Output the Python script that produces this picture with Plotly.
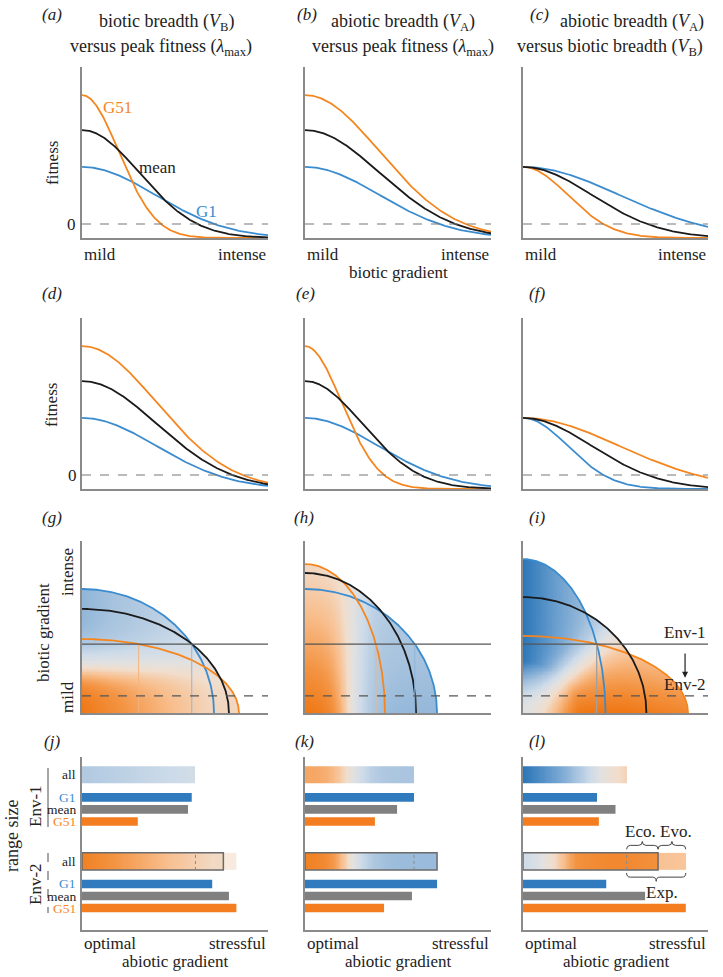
import numpy as np
import plotly.graph_objects as go

W, H = 723, 977
FONT = "Liberation Serif"

# ---------------- data ----------------
genotypes = ["G1", "mean", "G51"]
line_colors = ["#3b8ccf", "#1a1a1a", "#f5861f"]
bar_colors = ["#2f7bbd", "#808080", "#f47d1f"]
label_colors = ["#3b8ccf", "#222222", "#f5861f"]

# fitness panels (a-f): peak fitness (zero line at 0) and breadth along the gradient
fitness_floor = -1.0
fitness_top = 11.2
peak_a = [4.07, 6.7, 9.2]
breadth_a = [0.394, 0.307, 0.197]
peak_b = [4.07, 6.7, 9.2]
breadth_b = [0.40, 0.40, 0.40]
peak_c = [4.07, 4.07, 4.07]
breadth_c = [0.52, 0.372, 0.241]
peak_d = [4.07, 6.7, 9.2]
breadth_d = [0.40, 0.40, 0.40]
peak_e = [4.07, 6.7, 9.2]
breadth_e = [0.394, 0.307, 0.197]
peak_f = [4.07, 4.07, 4.07]
breadth_f = [0.241, 0.372, 0.52]

# range panels (g-i): extent along abiotic (x) and biotic (y) gradients
abiotic_g = [0.710, 0.790, 0.844]
biotic_g = [0.721, 0.605, 0.430]
abiotic_h = [0.710, 0.597, 0.430]
biotic_h = [0.721, 0.814, 0.866]
abiotic_i = [0.446, 0.667, 0.892]
biotic_i = [0.895, 0.674, 0.448]
env_levels = [0.401, 0.099]
env_names = ["Env-1", "Env-2"]

# range size panels (j-l)
bar_j_env1 = [0.59, 0.57, 0.30]
bar_j_env2 = [0.70, 0.79, 0.83]
all_j = [0.61, 0.76]
ext_j = 0.83
bar_k_env1 = [0.586, 0.495, 0.376]
bar_k_env2 = [0.71, 0.575, 0.425]
all_k = [0.586, 0.71]
ext_k = 0.71
bar_l_env1 = [0.40, 0.50, 0.41]
bar_l_env2 = [0.45, 0.66, 0.88]
all_l = [0.56, 0.73]
ext_l = 0.88

letters = ["a", "b", "c", "d", "e", "f", "g", "h", "i", "j", "k", "l"]

# ---------------- layout geometry (page pixels) ----------------
cols = [(82, 268), (305, 491), (523, 708)]
rows = [(67, 238), (318, 489), (541, 713), (757, 930)]
bar_top = 14.4
slot_top = [12.92, 5.71]
slot_offsets = [-1.88, -2.88, -3.88]
thin, thick = 0.71, 1.42


def PX(x):
    return x / W


def PY(y):
    return 1 - y / H


CS = [[0.0, "#ef7612"], [0.12, "#f39443"], [0.25, "#f8be8d"], [0.38, "#f1ddcc"],
      [0.5, "#e2e1e0"], [0.62, "#cddbe9"], [0.75, "#a7c3de"], [0.88, "#6b9fcf"],
      [1.0, "#2b76b8"]]


def field_g(X, Y):
    t = np.tanh((Y - 0.29) / 0.12)
    amp_o = np.clip(1.0 - 1.0 * X, 0.3, 1.0)
    amp_b = np.clip(0.6 - 0.55 * X, 0.12, 0.6)
    return np.where(t < 0, t * amp_o, t * amp_b)


def field_h(X, Y):
    t = np.tanh((X - 0.26) / 0.10)
    amp_o = np.clip(1.0 - 0.85 * Y, 0.3, 1.0)
    amp_b = np.clip(0.58 - 0.25 * Y, 0.3, 0.6)
    return np.where(t < 0, t * amp_o, t * amp_b)


def field_i(X, Y):
    t = np.tanh((Y - 0.95 * X) / 0.12)
    r = np.sqrt(X ** 2 + Y ** 2)
    amp = np.clip(r / 0.3, 0, 1)
    amp_b = amp * np.clip(1.0 - 1.3 * X, 0.15, 1.0)
    amp_o = amp * np.clip(1.0 - 1.5 * Y, 0.25, 1.0) * (1 - 0.4 * np.clip(X - 0.55, 0, 1))
    return np.where(t < 0, t * amp_o, t * amp_b)


def refs(k):
    return ("x" if k == 1 else f"x{k}"), ("y" if k == 1 else f"y{k}")


fig = go.Figure()
layout = {}
shapes = []
annotations = []

axstyle = dict(showline=True, linecolor="#8a8a8a", linewidth=1.5, showgrid=False,
               zeroline=False, showticklabels=False, ticks="", fixedrange=True)
for idx in range(12):
    r, c = divmod(idx, 3)
    k = idx + 1
    xr, yr = refs(k)
    xname = "xaxis" + ("" if k == 1 else str(k))
    yname = "yaxis" + ("" if k == 1 else str(k))
    yrange = [fitness_floor, fitness_top] if r < 2 else ([0, 1] if r == 2 else [0, bar_top])
    layout[xname] = dict(domain=[PX(cols[c][0]), PX(cols[c][1])], anchor=yr, range=[0, 1], **axstyle)
    layout[yname] = dict(domain=[PY(rows[r][1]), PY(rows[r][0])], anchor=xr, range=yrange, **axstyle)


def txt(x, y, s, size=17, color="#222222", xanchor="center", yanchor="middle", angle=0):
    annotations.append(dict(x=PX(x), y=PY(y), xref="paper", yref="paper", text=s,
                            showarrow=False, font=dict(family=FONT, size=size, color=color),
                            xanchor=xanchor, yanchor=yanchor, textangle=angle))


# ---------------- fitness panels ----------------
xg = np.linspace(0, 1, 300)
fit_sets = [(peak_a, breadth_a), (peak_b, breadth_b), (peak_c, breadth_c),
            (peak_d, breadth_d), (peak_e, breadth_e), (peak_f, breadth_f)]
for p_i, (peaks, breadths) in enumerate(fit_sets):
    k = p_i + 1
    xr, yr = refs(k)
    shapes.append(dict(type="line", xref=xr, yref=yr, x0=0, x1=1, y0=0, y1=0,
                       line=dict(color="#777777", width=1.2, dash="dash")))
    for gi in [0, 2, 1]:
        y = fitness_floor + (peaks[gi] - fitness_floor) * np.exp(-xg ** 2 / (2 * breadths[gi] ** 2))
        fig.add_trace(go.Scatter(x=xg, y=y, mode="lines", line=dict(color=line_colors[gi], width=1.8),
                                 xaxis=xr, yaxis=yr, hoverinfo="skip", showlegend=False))

# ---------------- range maps ----------------
N = 220
xs = (np.arange(N) + 0.5) / N
X, Y = np.meshgrid(xs, xs)
theta = np.linspace(0, np.pi / 2, 240)
map_sets = [(7, field_g, abiotic_g, biotic_g), (8, field_h, abiotic_h, biotic_h),
            (9, field_i, abiotic_i, biotic_i)]
for k, fn, A, B in map_sets:
    xr, yr = refs(k)
    inside = np.zeros_like(X, dtype=bool)
    for a, b in zip(A, B):
        inside |= (X / a) ** 2 + (Y / b) ** 2 <= 1
    Z = np.where(inside, fn(X, Y), np.nan)
    fig.add_trace(go.Heatmap(x=xs, y=xs, z=Z, zmin=-1, zmax=1, colorscale=CS, showscale=False,
                             hoverinfo="skip", xaxis=xr, yaxis=yr))
    # crossing of G51 / G1 with Env-1
    for gi, col in [(2, "#f5b27a"), (0, "#8fb5da")]:
        xc = A[gi] * np.sqrt(max(0.0, 1 - (env_levels[0] / B[gi]) ** 2))
        shapes.append(dict(type="line", xref=xr, yref=yr, x0=xc, x1=xc, y0=0, y1=env_levels[0],
                           line=dict(color=col if k != 9 else "#a0a0a0", width=1), layer="above"))
    shapes.append(dict(type="line", xref=xr, yref=yr, x0=0, x1=1, y0=env_levels[0], y1=env_levels[0],
                       line=dict(color="#555555", width=1.2), layer="above"))
    shapes.append(dict(type="line", xref=xr, yref=yr, x0=0, x1=1, y0=env_levels[1], y1=env_levels[1],
                       line=dict(color="#555555", width=1.2, dash="dash"), layer="above"))
    for gi in [0, 2, 1]:
        fig.add_trace(go.Scatter(x=A[gi] * np.cos(theta), y=B[gi] * np.sin(theta), mode="lines",
                                 line=dict(color=line_colors[gi], width=1.8), xaxis=xr, yaxis=yr,
                                 hoverinfo="skip", showlegend=False))

# ---------------- range size bars ----------------
bar_sets = [(10, field_g, bar_j_env1, bar_j_env2, all_j, ext_j),
            (11, field_h, bar_k_env1, bar_k_env2, all_k, ext_k),
            (12, field_i, bar_l_env1, bar_l_env2, all_l, ext_l)]
for k, fn, v1, v2, alls, ext in bar_sets:
    xr, yr = refs(k)
    ys, vals, cols_ = [], [], []
    for e_i, vals_e in enumerate([v1, v2]):
        for gi in range(3):
            ys.append(slot_top[e_i] + slot_offsets[gi])
            vals.append(vals_e[gi])
            cols_.append(bar_colors[gi])
        L = alls[e_i]
        edges = np.linspace(0, L, 121)
        cen = 0.5 * (edges[1:] + edges[:-1])
        z = fn(cen, np.full_like(cen, env_levels[e_i]))
        yc = slot_top[e_i]
        fig.add_trace(go.Heatmap(x=edges, y=[yc - thick / 2, yc + thick / 2], z=[z], zmin=-1, zmax=1,
                                 colorscale=CS, showscale=False, hoverinfo="skip", xaxis=xr, yaxis=yr))
        if e_i == 1:
            if ext > L:
                edges2 = np.linspace(L, ext, 31)
                cen2 = 0.5 * (edges2[1:] + edges2[:-1])
                z2 = fn(cen2, np.full_like(cen2, env_levels[e_i]))
                fig.add_trace(go.Heatmap(x=edges2, y=[yc - thick / 2, yc + thick / 2], z=[z2], zmin=-1,
                                         zmax=1, colorscale=CS, showscale=False, hoverinfo="skip",
                                         opacity=0.55, xaxis=xr, yaxis=yr))
            shapes.append(dict(type="rect", xref=xr, yref=yr, x0=0, x1=L, y0=yc - thick / 2,
                               y1=yc + thick / 2, line=dict(color="#6a6a6a", width=1.5), layer="above"))
            shapes.append(dict(type="line", xref=xr, yref=yr, x0=alls[0], x1=alls[0], y0=yc - thick / 2,
                               y1=yc + thick / 2, line=dict(color="#8a8a8a", width=1, dash="dot"),
                               layer="above"))
    fig.add_trace(go.Bar(orientation="h", y=ys, x=vals, width=thin,
                         marker=dict(color=cols_, line=dict(width=0)),
                         xaxis=xr, yaxis=yr, hoverinfo="skip", showlegend=False))


# braces in panel l
def brace(x1, x2, y0, h):
    mid = y0 + h / 2
    tip = y0 + h
    xm = 0.5 * (x1 + x2)
    q = min(0.02, (x2 - x1) / 6)
    return (f"M{x1},{y0} Q{x1},{mid} {x1 + q},{mid} L{xm - q},{mid} Q{xm},{mid} {xm},{tip} "
            f"Q{xm},{mid} {xm + q},{mid} L{x2 - q},{mid} Q{x2},{mid} {x2},{y0}")


xr, yr = refs(12)
ytop = slot_top[1] + thick / 2
ybot = slot_top[1] - thick / 2
for x1, x2, y0, h in [(all_l[0], all_l[1], ytop + 0.3, 0.65), (all_l[1], ext_l, ytop + 0.3, 0.65),
                      (all_l[0], ext_l, ybot - 0.25, -0.7)]:
    shapes.append(dict(type="path", xref=xr, yref=yr, path=brace(x1, x2, y0, h),
                       line=dict(color="#444444", width=1)))
for s, xv, yv in [("Eco.", 0.5 * (all_l[0] + all_l[1]) - 0.01, ytop + 1.75),
                  ("Evo.", 0.5 * (all_l[1] + ext_l) + 0.02, ytop + 1.75),
                  ("Exp.", 0.5 * (all_l[0] + ext_l) + 0.03, ybot - 1.85)]:
    annotations.append(dict(x=xv, y=yv, xref=xr, yref=yr, text=s, showarrow=False,
                            font=dict(family=FONT, size=17, color="#222222")))

# Env labels and arrow in panel i
xr, yr = refs(9)
for e_i in range(2):
    annotations.append(dict(x=1.0, y=env_levels[e_i], xref=xr, yref=yr, text=env_names[e_i],
                            showarrow=False, xanchor="right", yanchor="bottom",
                            font=dict(family=FONT, size=17, color="#222222")))
annotations.append(dict(x=0.876, y=0.205, ax=0.876, ay=0.355, xref=xr, yref=yr, axref=xr, ayref=yr,
                        text="", showarrow=True, arrowhead=2, arrowsize=1, arrowwidth=1.2,
                        arrowcolor="#222222"))

# bar labels (column j)
xr, yr = refs(10)
for e_i in range(2):
    annotations.append(dict(x=PX(78), y=slot_top[e_i], xref="paper", yref=yr, text="all",
                            showarrow=False, xanchor="right",
                            font=dict(family=FONT, size=13.5, color="#222222")))
    for gi in range(3):
        annotations.append(dict(x=PX(78), y=slot_top[e_i] + slot_offsets[gi], xref="paper", yref=yr,
                                text=genotypes[gi], showarrow=False, xanchor="right",
                                font=dict(family=FONT, size=13.5, color=label_colors[gi])))

shapes.append(dict(type="line", xref="paper", yref="paper", x0=PX(48), x1=PX(48), y0=PY(768),
                   y1=PY(827), line=dict(color="#8a8a8a", width=1.5)))
shapes.append(dict(type="line", xref="paper", yref="paper", x0=PX(48), x1=PX(48), y0=PY(853),
                   y1=PY(913), line=dict(color="#8a8a8a", width=1.5, dash="dash")))

# ---------------- text ----------------
letter_pos = [(52, 14), (307, 14), (539, 14), (52, 293), (305, 293), (537, 293),
              (52, 517), (304, 517), (537, 517), (52, 741), (304, 741), (537, 741)]
for L_, (lx, ly) in zip(letters, letter_pos):
    txt(lx, ly, f"<i>({L_})</i>", size=17)

txt(166, 23, "biotic breadth (<i>V</i><sub>B</sub>)", size=18)
txt(161, 47, "versus peak fitness (<i>λ</i><sub>max</sub>)", size=18)
txt(403, 23, "abiotic breadth (<i>V</i><sub>A</sub>)", size=18)
txt(403, 47, "versus peak fitness (<i>λ</i><sub>max</sub>)", size=18)
txt(632, 23, "abiotic breadth (<i>V</i><sub>A</sub>)", size=18)
txt(610, 47, "versus biotic breadth (<i>V</i><sub>B</sub>)", size=18)

for c0, c1 in cols:
    txt(c0, 255, "mild", xanchor="left")
    txt(c1, 255, "intense", xanchor="right")
    txt(c0, 943, "optimal", xanchor="left")
    txt(c1, 943, "stressful", xanchor="right")
    txt(0.5 * (c0 + c1), 961, "abiotic gradient")
txt(398, 272, "biotic gradient")

txt(52, 163, "fitness", angle=-90)
txt(52, 405, "fitness", angle=-90)
txt(71, 225, "0")
txt(72, 475, "0")
txt(117, 108, "G51", color=label_colors[2])
txt(157, 167, "mean")
txt(206, 211, "G1", color=label_colors[0])

txt(43, 633, "biotic gradient", angle=-90)
txt(67, 572, "intense", angle=-90)
txt(67, 697, "mild", angle=-90)

txt(12, 836, "range size", size=18, angle=-90)
txt(35, 806, "Env-1", angle=-90)
txt(35, 884, "Env-2", angle=-90)

fig.update_layout(width=W, height=H, margin=dict(l=0, r=0, t=0, b=0), paper_bgcolor="white",
                  plot_bgcolor="rgba(0,0,0,0)", showlegend=False, barmode="overlay",
                  shapes=shapes, annotations=annotations, **layout)
fig.write_html("out.html", config={"displayModeBar": False},
               post_script="document.body.style.margin='0px';"
                           "document.documentElement.style.overflow='hidden';"
                           "document.body.style.overflow='hidden';")
